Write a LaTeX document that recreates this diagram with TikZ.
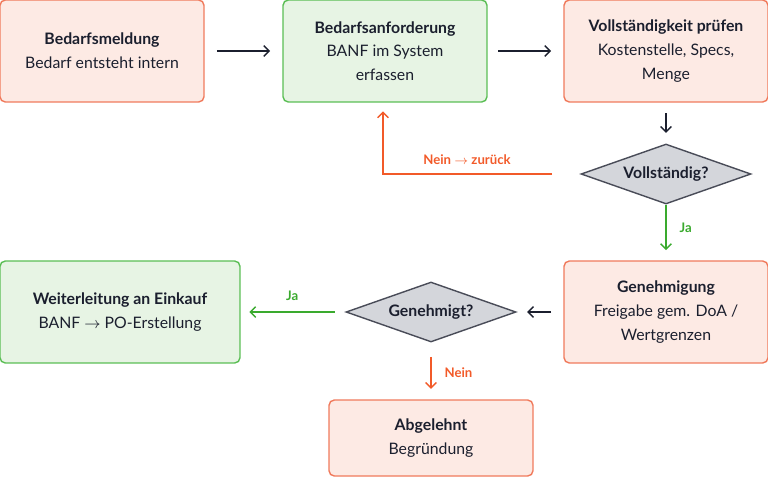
\documentclass[tikz,border=0pt]{standalone}
\usepackage{fontspec}
\setmainfont{Lato}
\usetikzlibrary{shapes.geometric, arrows.meta}

\definecolor{redfill}{HTML}{FDEAE4}
\definecolor{redline}{HTML}{F07A5C}
\definecolor{greenfill}{HTML}{E7F4E4}
\definecolor{greenline}{HTML}{5BBE55}
\definecolor{grayfill}{HTML}{D4D6DB}
\definecolor{ink}{HTML}{1B1F2E}
\definecolor{back}{HTML}{F25A29}
\definecolor{okay}{HTML}{3AAA2E}

\tikzset{
	box/.style={draw, rounded corners=3pt, thick, minimum width=4.08cm, minimum height=2.04cm, align=center, text=ink, font=\fontsize{9}{13.5}\selectfont},
	task/.style={box, draw=redline, fill=redfill},
	done/.style={box, draw=greenline, fill=greenfill},
	check/.style={diamond, aspect=2.9, draw=ink!80, thick, fill=grayfill, minimum width=3.4cm, minimum height=1.2cm, inner sep=0pt, text=ink, font=\fontsize{9}{11}\selectfont\bfseries},
	flow/.style={-{Straight Barb[length=3pt]}, thick, ink},
	yes/.style={-{Straight Barb[length=3pt]}, thick, okay},
	no/.style={-{Straight Barb[length=3pt]}, thick, back},
	lbl/.style={font=\fontsize{7.5}{9}\selectfont\bfseries}
}

\begin{document}
\begin{tikzpicture}[x=0.02cm, y=-0.02cm]

\useasboundingbox (0,0) rectangle (768,478);

%Nodes
\node[task] (need) at (102,51) {\textbf{Bedarfsmeldung}\\Bedarf entsteht intern};
\node[done] (banf) at (385,51) {\textbf{Bedarfsanforderung}\\BANF im System\\erfassen};
\node[task] (check) at (666,51) {\textbf{Vollständigkeit prüfen}\\Kostenstelle, Specs,\\Menge};
\node[check] (full) at (666,174) {Vollständig?};
\node[task] (approve) at (666,312) {\textbf{Genehmigung}\\Freigabe gem. DoA /\\Wertgrenzen};
\node[check] (granted) at (431,312) {Genehmigt?};
\node[done, minimum width=4.8cm] (forward) at (120,312) {\textbf{Weiterleitung an Einkauf}\\BANF $\rightarrow$ PO-Erstellung};
\node[task, minimum height=1.52cm] (reject) at (431,438) {\textbf{Abgelehnt}\\Begründung};

%Connectors
\coordinate (turn) at (383,174);
\draw[flow] ([xshift=7pt]need.east) -- ([xshift=-7pt]banf.west);
\draw[flow] ([xshift=6pt]banf.east) -- ([xshift=-7pt]check.west);
\draw[flow] ([yshift=-6pt]check.south) -- ([yshift=6pt]full.north);
\draw[yes] (full.south) -- (666,250) node[midway, right=4pt, lbl] {Ja};
\draw[flow] ([xshift=-7pt]approve.west) -- ([xshift=6pt]granted.east);
\draw[yes] ([xshift=-6pt]granted.west) -- ([xshift=5pt]forward.east) node[midway, above=3pt, lbl] {Ja};
\draw[no] ([yshift=-8pt]granted.south) -- ([yshift=6pt]reject.north) node[midway, right=4pt, lbl] {Nein};
\draw[no] ([xshift=-16pt]full.west) -- (turn) -- ([yshift=-5pt]banf.south -| turn);
\node[lbl, text=back] (nein) at (467,160) {Nein $\rightarrow$ zurück};

\end{tikzpicture}
\end{document}
